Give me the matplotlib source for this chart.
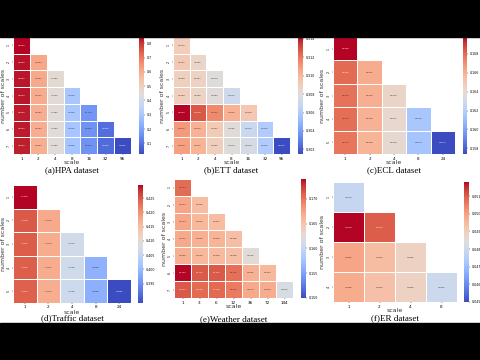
import numpy as np
import matplotlib.pyplot as plt
from matplotlib.patches import Rectangle

W, H = 480, 360

# (a) HPA dataset
hpa_scales = ['1', '2', '4', '8', '16', '32', '96']
hpa_rows = [[0.845],
            [0.835, 0.610],
            [0.830, 0.605, 0.455],
            [0.832, 0.600, 0.450, 0.300],
            [0.828, 0.598, 0.448, 0.296, 0.170],
            [0.826, 0.596, 0.446, 0.292, 0.165, 0.090],
            [0.825, 0.595, 0.445, 0.290, 0.160, 0.085, 0.025]]
hpa_ticks = [0.1, 0.2, 0.3, 0.4, 0.5, 0.6, 0.7, 0.8]

# (b) ETT dataset
ett_scales = ['1', '2', '4', '8', '16', '32', '96']
ett_rows = [[0.3090],
            [0.3092, 0.3085],
            [0.3088, 0.3087, 0.3079],
            [0.3089, 0.3086, 0.3080, 0.3072],
            [0.3142, 0.3128, 0.3115, 0.3102, 0.3093],
            [0.3110, 0.3102, 0.3091, 0.3080, 0.3070, 0.3060],
            [0.3108, 0.3101, 0.3089, 0.3079, 0.3075, 0.3060, 0.3015]]
ett_ticks = [0.302, 0.304, 0.306, 0.308, 0.310, 0.312, 0.314]

# (c) ECL dataset
ecl_scales = ['1', '2', '4', '8', '24']
ecl_rows = [[0.1698],
            [0.1680, 0.1661],
            [0.1678, 0.1660, 0.1643],
            [0.1679, 0.1659, 0.1641, 0.1615],
            [0.1677, 0.1658, 0.1640, 0.1614, 0.1574]]
ecl_ticks = [0.158, 0.160, 0.162, 0.164, 0.166, 0.168]

# (d) Traffic dataset
traffic_scales = ['1', '2', '4', '8', '24']
traffic_rows = [[0.4296],
                [0.4248, 0.4175],
                [0.4246, 0.4173, 0.4070],
                [0.4245, 0.4172, 0.4068, 0.3988],
                [0.4244, 0.4170, 0.4066, 0.3985, 0.3882]]
traffic_ticks = [0.395, 0.400, 0.405, 0.410, 0.415, 0.420, 0.425]

# (e) Weather dataset
weather_scales = ['1', '3', '6', '12', '36', '72', '144']
weather_rows = [[0.1704],
                [0.1673, 0.1656],
                [0.1672, 0.1660, 0.1657],
                [0.1670, 0.1665, 0.1663, 0.1655],
                [0.1666, 0.1660, 0.1658, 0.1655, 0.1625],
                [0.1740, 0.1712, 0.1712, 0.1702, 0.1665, 0.1660],
                [0.1712, 0.1705, 0.1706, 0.1696, 0.1670, 0.1668, 0.1615]]
weather_ticks = [0.150, 0.155, 0.160, 0.165, 0.170]

# (f) ER dataset
er_scales = ['1', '2', '4', '8']
er_rows = [[0.04786],
           [0.05180, 0.05098],
           [0.04990, 0.04942, 0.04888],
           [0.04976, 0.04935, 0.04888, 0.04799]]
er_ticks = [0.045, 0.046, 0.047, 0.048, 0.049, 0.050, 0.051]


def px_rect(x0, y0, x1, y1):
    return [x0 / W, 1 - y1 / H, (x1 - x0) / W, (y1 - y0) / H]


def draw_heat(fig, heat_box, cbar_box, rows, scales, ticks, caption,
              label_y, cap_y, ylab_x, vmin=None, vmax=None, fmt='%.3f'):
    n = len(rows)
    m = len(scales)
    mat = np.full((n, m), np.nan)
    for i, r in enumerate(rows):
        mat[i, :len(r)] = r
    data = np.ma.masked_invalid(mat)
    if vmin is None:
        vmin = data.min()
    if vmax is None:
        vmax = data.max()
    cmap = plt.get_cmap('coolwarm')

    ax = fig.add_axes(px_rect(*heat_box))
    mesh = ax.pcolormesh(data, cmap=cmap, vmin=vmin, vmax=vmax,
                         edgecolors='white', linewidth=0.4)
    ax.set_xlim(0, m)
    ax.set_ylim(n, 0)
    for s in ax.spines.values():
        s.set_visible(False)
    ax.set_xticks(np.arange(m) + 0.5, scales, fontsize=3)
    ax.set_yticks(np.arange(n) + 0.5, [str(i + 1) for i in range(n)],
                  fontsize=2.3, rotation=90, va='center')
    ax.tick_params(length=1, width=0.3, pad=0.8)

    # cell annotations
    for i, r in enumerate(rows):
        for j, v in enumerate(r):
            rgb = cmap((v - vmin) / (vmax - vmin))[:3]
            lum = 0.299 * rgb[0] + 0.587 * rgb[1] + 0.114 * rgb[2]
            ax.text(j + 0.5, i + 0.5, '%.4f' % v, fontsize=1.6,
                    ha='center', va='center',
                    color='white' if lum < 0.55 else '#333333')

    cax = fig.add_axes(px_rect(*cbar_box))
    cb = fig.colorbar(mesh, cax=cax, ticks=ticks, format=fmt)
    cb.outline.set_visible(False)
    cb.ax.tick_params(labelsize=2.3, length=1, width=0.3, pad=1)

    cx = (heat_box[0] + heat_box[2]) / 2 / W
    fig.text(cx, 1 - label_y / H, 'scale', fontsize=4.5,
             ha='center', va='center', color='#333333')
    fig.text(cx, 1 - cap_y / H, caption, fontsize=6.5,
             family='Liberation Serif', ha='center', va='center')
    cy = 1 - (heat_box[1] + heat_box[3]) / 2 / H
    fig.text(ylab_x / W, cy, 'number of scales', fontsize=4.5,
             rotation=90, ha='center', va='center', color='#333333')


fig = plt.figure(figsize=(4.8, 3.6), dpi=100)
fig.patch.set_facecolor('white')

draw_heat(fig, (13, 37, 131, 154), (139, 37, 144, 154), hpa_rows, hpa_scales,
          hpa_ticks, '(a)HPA dataset', 163, 170, 4, fmt='%.1f')
draw_heat(fig, (173, 37, 290, 154), (298, 37, 303, 154), ett_rows, ett_scales,
          ett_ticks, '(b)ETT dataset', 163, 170, 163)
draw_heat(fig, (333, 37, 455, 154), (463, 37, 467, 154), ecl_rows, ecl_scales,
          ecl_ticks, '(c)ECL dataset', 163, 170, 323)
draw_heat(fig, (13, 185, 131, 303), (138, 185, 143, 303), traffic_rows,
          traffic_scales, traffic_ticks, '(d)Traffic dataset', 312, 318, 4)
draw_heat(fig, (174, 179, 293, 298), (301, 179, 306, 298), weather_rows,
          weather_scales, weather_ticks, '(e)Weather dataset', 307, 319, 164,
          vmin=0.150, vmax=0.174)
draw_heat(fig, (333, 182, 457, 302), (464, 182, 469, 302), er_rows, er_scales,
          er_ticks, '(f)ER dataset', 311, 318, 323, vmin=0.045, vmax=0.0518)

# letterbox bars
fig.add_artist(Rectangle((0, 1 - 37 / H), 1, 37 / H, transform=fig.transFigure,
                         color='black', zorder=20))
fig.add_artist(Rectangle((0, 0), 1, 37 / H, transform=fig.transFigure,
                         color='black', zorder=20))

fig.savefig('out.png', dpi=100)
